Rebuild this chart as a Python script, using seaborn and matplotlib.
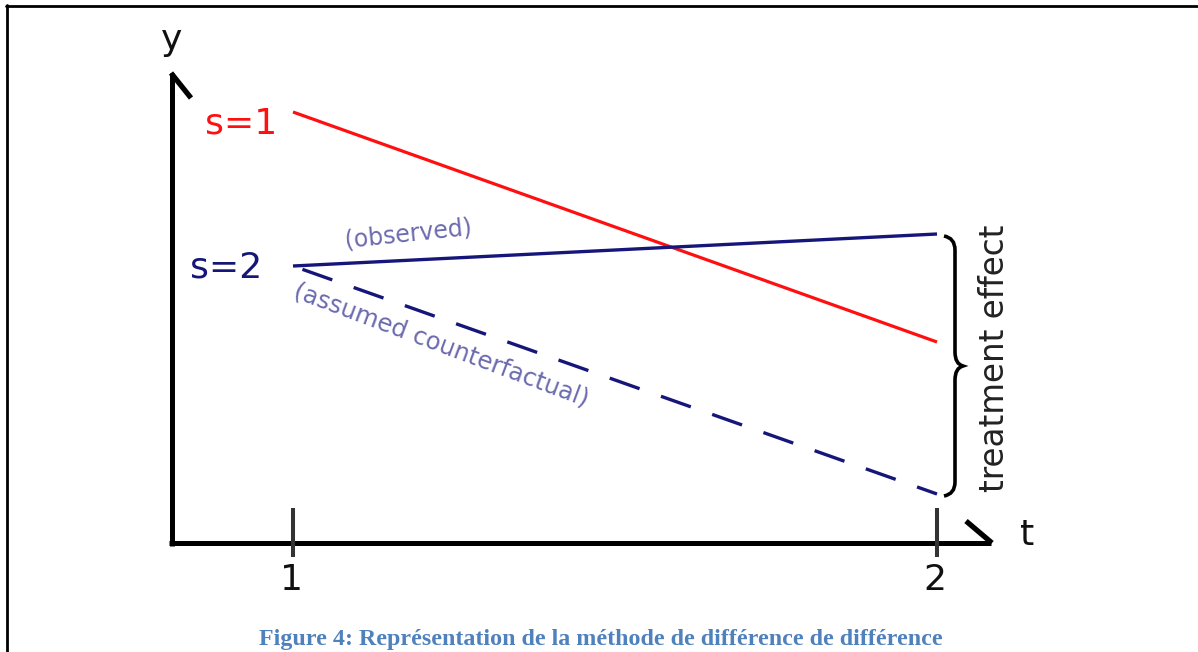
import numpy as np
import pandas as pd
import matplotlib
matplotlib.use("Agg")
import matplotlib.pyplot as plt
from matplotlib.path import Path
from matplotlib.patches import PathPatch
from matplotlib.lines import Line2D
import seaborn as sns

# ---- data ----
periods = [1, 2]
s1_values = [4.31, 2.01]            # s=1 (red)
s2_observed = [2.77, 3.09]          # s=2 observed
s2_counterfactual = [2.77, 0.49]    # s=2 assumed counterfactual
tick_labels = ["1", "2"]
caption = "Figure 4: Représentation de la méthode de différence de différence"

sns.set_theme(style="white")
plt.rcParams["font.family"] = ["DejaVu Sans"]

W, H = 1198, 652
fig = plt.figure(figsize=(W / 100, H / 100), dpi=100)
ax = fig.add_axes([0, 0, 1, 1])

# pixel <-> data helpers (axes fill the whole figure)
X0_PX, X_UNIT = 293, 644.0   # t=1 at px 293, one t unit = 644 px
Y0_PX, Y_UNIT = 543, 100.0   # y=0 at px 543 (from top), one y unit = 100 px
ax.set_xlim(1 - X0_PX / X_UNIT, 1 + (W - X0_PX) / X_UNIT)
ax.set_ylim((Y0_PX - H) / Y_UNIT, Y0_PX / Y_UNIT)
ax.axis("off")

def px(xp, yp):
    return 1 + (xp - X0_PX) / X_UNIT, (Y0_PX - yp) / Y_UNIT

dx = 1 / X_UNIT
dy = 1 / Y_UNIT

red = "#ff1010"
navy = "#16167a"
light = "#6a6aae"

df = pd.DataFrame({
    "t": periods * 3,
    "y": s1_values + s2_observed + s2_counterfactual,
    "series": ["s1"] * 2 + ["obs"] * 2 + ["cf"] * 2,
})

sns.lineplot(data=df[df.series == "s1"], x="t", y="y", color=red, lw=2.3,
             ax=ax, legend=False, solid_capstyle="butt")
sns.lineplot(data=df[df.series == "obs"], x="t", y="y", color=navy, lw=2.4,
             ax=ax, legend=False, solid_capstyle="butt")
sns.lineplot(data=df[df.series == "cf"], x="t", y="y", color=navy, lw=2.4,
             ax=ax, legend=False, dashes=False, linestyle=(-3, (9.5, 6.8)),
             dash_capstyle="butt")

# ---- axes with half arrowheads ----
x_left, _ = px(172, 0)
x_right, _ = px(991, 0)
_, y_top = px(0, 73)
ax.plot([x_left, x_left], [-3 * dy, y_top], color="black", lw=3.6,
        solid_capstyle="butt")
ax.plot([x_left - 3 * dx, x_right], [0, 0], color="black", lw=3.6,
        solid_capstyle="butt")
# barbs
ax.plot([x_left - 1 * dx, x_left + 19 * dx], [y_top, y_top - 25 * dy],
        color="black", lw=3.8, solid_capstyle="butt")
ax.plot([x_right + 1 * dx, x_right - 25 * dx], [0, 22 * dy],
        color="black", lw=3.8, solid_capstyle="butt")

# ticks
for t, lab in zip(periods, tick_labels):
    ax.plot([t, t], [35 * dy, -14 * dy], color="#333333", lw=2.9,
            solid_capstyle="butt")
    ax.text(t - 2 * dx, -37 * dy, lab, ha="center", va="center",
            fontsize=26, color="#111111")

ax.text(*px(172, 40), "y", ha="center", va="center", fontsize=26,
        color="#111111")
ax.text(*px(1027, 535), "t", ha="center", va="center", fontsize=26,
        color="#111111")

# series labels
ax.text(*px(241, 124), "s=1", ha="center", va="center", fontsize=26,
        color=red)
ax.text(*px(226, 268), "s=2", ha="center", va="center", fontsize=26,
        color=navy)
ax.text(*px(408, 234), "(observed)", ha="center", va="center", fontsize=17,
        color=light, rotation=6, rotation_mode="anchor")
ax.text(*px(441, 345), "(assumed counterfactual)", ha="center", va="center",
        fontsize=17.5, color=light, rotation=-20.5, rotation_mode="anchor")

# ---- brace for treatment effect ----
top = s2_observed[1] - 2 * dy
bot = s2_counterfactual[1] - 2 * dy
mid = (top + bot) / 2
xb = 2 + 7 * dx
xs = 2 + 18 * dx
xt = 2 + 26 * dx
verts = [
    (xb, top), (xs, top - 2 * dy), (xs, top - 14 * dy),
    (xs, mid + 14 * dy),
    (xs, mid + 2 * dy), (xt, mid),
    (xs, mid - 2 * dy), (xs, mid - 14 * dy),
    (xs, bot + 14 * dy),
    (xs, bot + 2 * dy), (xb, bot),
]
codes = [Path.MOVETO, Path.CURVE3, Path.CURVE3, Path.LINETO,
         Path.CURVE3, Path.CURVE3, Path.CURVE3, Path.CURVE3,
         Path.LINETO, Path.CURVE3, Path.CURVE3]
ax.add_patch(PathPatch(Path(verts, codes), fill=False, lw=2.6,
                       edgecolor="black", capstyle="butt"))
ax.text(*px(994, 358), "treatment effect", ha="center", va="center",
        fontsize=23.5, rotation=90, color="#222222")

# ---- caption ----
ax.text(*px(601, 640), caption, ha="center", va="center", fontsize=17.3,
        fontweight="bold", color="#4f81bd", family=["Liberation Serif"])

# ---- frame (top and left) ----
fig.add_artist(Line2D([6 / W, 1], [1 - 6 / H, 1 - 6 / H], color="black",
                      lw=2.0, transform=fig.transFigure))
fig.add_artist(Line2D([7 / W, 7 / W], [0, 1 - 5 / H], color="black",
                      lw=2.0, transform=fig.transFigure))

fig.savefig("out.png", dpi=100, facecolor="white")
